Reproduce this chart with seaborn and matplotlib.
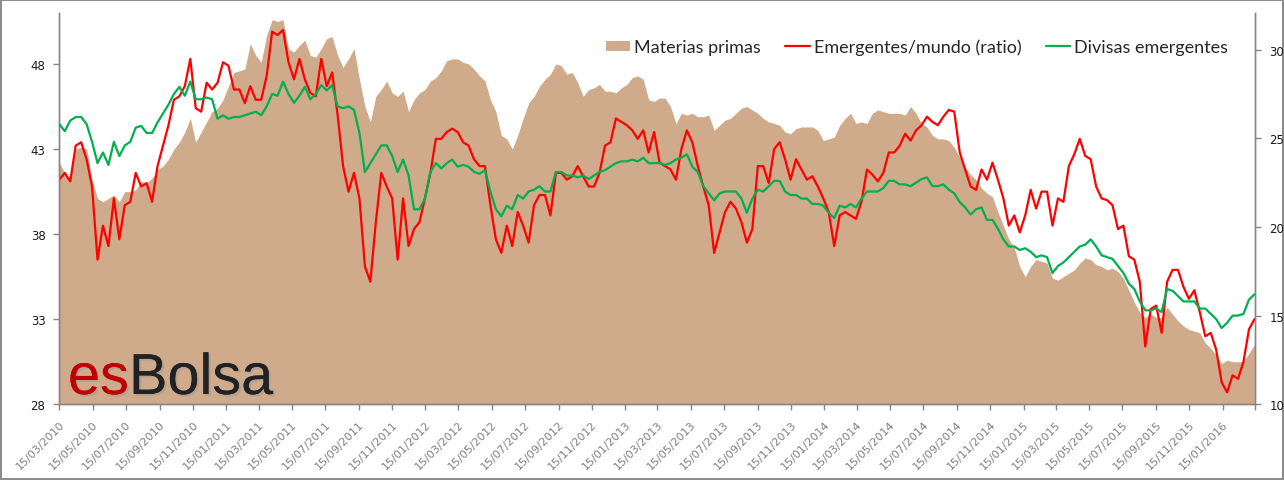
import pandas as pd
import matplotlib
matplotlib.use("Agg")
import matplotlib.pyplot as plt
import matplotlib.patheffects as pe
import seaborn as sns

# --- data (one value every 10 days from 15/03/2010) ---
start_date = "2010-03-15"

materias_primas = [
    42.2, 41.6, 41.2, 43.0, 43.1, 43.0, 41.2, 40.1, 39.9, 40.1,
    40.3, 39.9, 40.5, 40.5, 40.6, 41.1, 41.0, 41.3, 41.8, 42.0,
    42.4, 43.0, 43.4, 44.0, 44.8, 43.4, 44.0, 44.6, 45.2, 45.4,
    45.9, 46.7, 47.5, 47.6, 47.7, 49.2, 48.5, 48.1, 49.7, 50.6,
    50.5, 50.6, 48.9, 48.7, 49.1, 49.4, 48.5, 48.4, 48.9, 49.5,
    49.6, 48.5, 47.8, 48.3, 48.9, 47.1, 45.5, 44.6, 46.1, 46.5,
    47.0, 46.3, 46.1, 46.4, 45.2, 45.9, 46.3, 46.5, 47.0, 47.2,
    47.6, 48.2, 48.3, 48.3, 48.1, 48.0, 47.7, 47.3, 47.0, 45.9,
    45.2, 43.8, 43.6, 43.0, 43.8, 44.8, 45.7, 46.1, 46.7, 47.1,
    47.4, 48.0, 47.9, 47.4, 47.5, 46.9, 46.1, 46.5, 46.6, 46.8,
    46.4, 46.4, 46.3, 46.6, 46.8, 47.2, 47.3, 47.1, 45.9, 45.8,
    46.0, 46.0, 45.5, 44.5, 45.1, 45.0, 45.1, 44.9, 44.9, 45.0,
    44.1, 44.4, 44.7, 44.8, 45.1, 45.4, 45.5, 45.3, 45.1, 44.8,
    44.6, 44.5, 44.4, 44.0, 43.9, 44.2, 44.3, 44.3, 44.3, 44.1,
    43.5, 43.6, 43.7, 44.4, 44.8, 45.1, 44.5, 44.6, 44.5, 45.1,
    45.3, 45.2, 45.1, 45.1, 45.1, 45.0, 45.5, 45.1, 44.5, 44.3,
    43.8, 43.6, 43.6, 43.5, 43.1, 42.5, 41.9, 41.5, 41.2, 40.7,
    40.4, 40.2, 39.3, 38.5, 37.7, 37.2, 36.1, 35.5, 36.1, 36.5,
    36.4, 36.3, 35.4, 35.3, 35.5, 35.7, 35.9, 36.3, 36.6, 36.5,
    36.2, 36.1, 35.9, 36.0, 35.8, 35.4, 34.7, 34.0, 33.4, 33.1,
    33.3, 33.1, 33.1, 33.7, 33.3, 32.9, 32.6, 32.4, 32.3, 32.2,
    31.6, 31.3, 30.9, 30.4, 30.6, 30.5, 30.5, 30.5, 31.0, 31.5,
]

emergentes_mundo = [
    41.2, 41.6, 41.1, 43.2, 43.4, 42.4, 40.8, 36.5, 38.5, 37.3,
    40.1, 37.7, 39.7, 39.9, 41.6, 40.8, 41.0, 39.9, 42.0, 43.2,
    44.4, 45.9, 46.1, 46.7, 48.3, 45.4, 45.2, 46.9, 46.5, 46.9,
    48.1, 47.9, 46.5, 46.5, 45.7, 46.7, 45.9, 45.9, 47.3, 49.9,
    49.7, 50.0, 48.1, 47.1, 48.3, 47.1, 46.3, 46.1, 48.3, 46.7,
    47.5, 45.0, 42.0, 40.5, 41.6, 40.1, 36.1, 35.2, 38.7, 41.6,
    40.8, 40.1, 36.5, 40.1, 37.3, 38.3, 38.7, 40.1, 41.6, 43.6,
    43.6, 44.0, 44.2, 44.0, 43.4, 43.2, 42.4, 42.0, 42.0, 39.7,
    37.7, 36.9, 38.5, 37.3, 39.3, 38.5, 37.5, 39.7, 40.3, 40.3,
    39.1, 41.6, 41.6, 41.2, 41.4, 42.0, 41.4, 40.8, 40.8, 41.6,
    43.2, 43.4, 44.8, 44.6, 44.4, 44.1, 43.6, 44.1, 42.8, 44.0,
    42.2, 42.0, 41.8, 41.2, 43.0, 44.1, 43.4, 42.0, 40.8, 39.7,
    36.9, 38.1, 39.3, 39.9, 39.5, 38.7, 37.5, 38.3, 42.0, 42.0,
    41.0, 43.0, 43.4, 42.4, 41.2, 42.4, 41.8, 41.2, 41.4, 40.8,
    40.1, 39.3, 37.3, 39.1, 39.3, 39.1, 38.9, 39.9, 41.8, 41.5,
    41.1, 41.6, 42.8, 42.8, 43.2, 43.9, 43.5, 44.1, 44.4, 44.9,
    44.6, 44.4, 44.9, 45.3, 45.2, 42.8, 41.8, 40.8, 40.6, 41.8,
    41.2, 42.2, 41.2, 40.1, 38.5, 39.1, 38.1, 39.1, 40.6, 39.5,
    40.5, 40.5, 38.5, 40.1, 39.9, 42.0, 42.7, 43.6, 42.6, 42.4,
    40.8, 40.1, 40.0, 39.7, 38.3, 38.5, 36.7, 36.5, 35.2, 31.4,
    33.6, 33.8, 32.2, 35.2, 35.9, 35.9, 34.9, 34.2, 34.7, 33.4,
    32.0, 32.2, 31.2, 29.3, 28.7, 29.7, 29.5, 30.5, 32.4, 33.0,
]

divisas_emergentes = [
    25.8, 25.4, 26.0, 26.2, 26.2, 25.8, 24.8, 23.6, 24.2, 23.5,
    24.8, 24.0, 24.6, 24.8, 25.6, 25.7, 25.3, 25.3, 25.9, 26.4,
    26.9, 27.5, 27.9, 27.4, 28.2, 27.2, 27.2, 27.3, 27.2, 26.1,
    26.3, 26.1, 26.2, 26.2, 26.3, 26.4, 26.5, 26.3, 26.8, 27.5,
    27.4, 28.2, 27.5, 27.0, 27.4, 27.9, 27.2, 27.5, 28.0, 27.7,
    28.0, 26.8, 26.7, 26.8, 26.6, 25.3, 23.1, 23.6, 24.1, 24.6,
    24.6, 24.0, 23.1, 23.8, 22.9, 21.0, 21.0, 21.6, 23.1, 23.6,
    23.3, 23.6, 23.8, 23.4, 23.5, 23.4, 23.1, 23.0, 23.2, 22.0,
    21.0, 20.6, 21.2, 21.0, 21.8, 21.6, 22.0, 22.1, 22.3, 22.0,
    22.0, 23.1, 23.1, 22.9, 22.9, 22.8, 22.9, 22.7, 22.9, 23.1,
    23.2, 23.4, 23.6, 23.7, 23.7, 23.8, 23.7, 23.9, 23.6, 23.6,
    23.6, 23.5, 23.6, 23.8, 23.9, 24.1, 23.4, 23.1, 22.3, 21.9,
    21.5, 21.9, 22.0, 22.0, 22.0, 21.6, 20.8, 21.6, 22.1, 22.0,
    22.3, 22.6, 22.6, 22.0, 21.8, 21.8, 21.6, 21.6, 21.3, 21.3,
    21.2, 20.8, 20.5, 21.2, 21.1, 21.3, 21.1, 21.6, 22.0, 22.0,
    22.0, 22.2, 22.6, 22.6, 22.4, 22.4, 22.3, 22.5, 22.7, 22.8,
    22.3, 22.3, 22.4, 22.1, 21.9, 21.4, 21.1, 20.7, 21.0, 21.1,
    20.4, 20.4, 19.9, 19.3, 18.9, 18.9, 18.7, 18.8, 18.6, 18.3,
    18.4, 18.3, 17.4, 17.8, 18.0, 18.3, 18.6, 18.9, 19.0, 19.3,
    18.9, 18.4, 18.3, 18.2, 17.8, 17.4, 16.8, 16.5, 15.8, 15.3,
    15.3, 15.4, 15.2, 16.5, 16.4, 16.1, 15.8, 15.8, 15.8, 15.4,
    15.4, 15.1, 14.8, 14.3, 14.6, 15.0, 15.0, 15.1, 15.9, 16.2,
]

left_ticks = [28, 33, 38, 43, 48]
right_ticks = [10, 15, 20, 25, 30]

labels = ["Materias primas", "Emergentes/mundo (ratio)", "Divisas emergentes"]
FILL_COLOR = "#CFAA8B"
RED = "#FF0000"
GREEN = "#00B050"

dates = pd.date_range(start=start_date, periods=len(materias_primas), freq="10D")
df = pd.DataFrame({
    "fecha": dates,
    "materias": materias_primas,
    "ratio": emergentes_mundo,
    "divisas": divisas_emergentes,
})

sns.set_style("white")
plt.rcParams["font.family"] = ["DejaVu Sans"]

fig = plt.figure(figsize=(12.84, 4.81), dpi=100, edgecolor="#8C8C8C", linewidth=1.5)
ax = fig.add_axes([0.0462, 0.1574, 0.9316, 0.8129])
ax2 = ax.twinx()

# area + lines
ax.fill_between(df["fecha"], 28, df["materias"], color=FILL_COLOR, lw=0, label=labels[0], zorder=1)
sns.lineplot(data=df, x="fecha", y="ratio", ax=ax, color=RED, lw=1.6, label=labels[1], zorder=3)
sns.lineplot(data=df, x="fecha", y="divisas", ax=ax2, color=GREEN, lw=1.6, label=labels[2], zorder=3)

ax.set_ylim(28, 50.98)
ax2.set_ylim(10, 32.05)
ax.set_yticks(left_ticks)
ax2.set_yticks(right_ticks)

x_end = pd.Timestamp("2016-03-15")
ax.set_xlim(pd.Timestamp(start_date), x_end)
xticks = list(pd.date_range(start_date, "2016-01-15", freq=pd.DateOffset(months=2)))
ax.set_xticks(xticks + [x_end])
ax.set_xticklabels([d.strftime("%d/%m/%Y") for d in xticks] + [""],
                   rotation=45, ha="right", rotation_mode="anchor",
                   fontsize=8, color="#7F7F7F")
ax.tick_params(axis="x", length=4, width=1, color="#868686", pad=6, bottom=True)
ax.tick_params(axis="y", length=4, width=1, color="#868686", labelsize=8.5,
               labelcolor="#1A1A1A", pad=6, left=True)
ax2.tick_params(axis="y", length=4, width=1, color="#868686", labelsize=8.5,
                labelcolor="#1A1A1A", pad=6, right=True)

for a in (ax, ax2):
    a.set_xlabel("")
    a.set_ylabel("")
    a.spines["top"].set_visible(False)
    for s in ("left", "right", "bottom"):
        a.spines[s].set_color("#868686")
        a.spines[s].set_linewidth(1)
    if a.get_legend() is not None:
        a.get_legend().remove()

# legend across the top right
h1, l1 = ax.get_legend_handles_labels()
h2, l2 = ax2.get_legend_handles_labels()
fig.legend(h1 + h2, l1 + l2, loc="center right", bbox_to_anchor=(0.969, 0.90),
           ncol=3, frameon=False, prop={"family": "Lato", "size": 13},
           handlelength=1.35, handleheight=0.55, handletextpad=0.22, columnspacing=1.35)

# esBolsa logo
shadow = [pe.withSimplePatchShadow(offset=(1.5, -1.5), shadow_rgbFace="#999999", alpha=0.5), pe.Normal()]
t1 = fig.text(68 / 1284, 1 - 395 / 481, "es", color="#C00000", fontsize=41.5,
              family="Liberation Sans", va="baseline", ha="left", path_effects=shadow)
fig.canvas.draw()
bb = t1.get_window_extent()
fig.text(bb.x1 / fig.bbox.width, 1 - 395 / 481, "Bolsa", color="#222222", fontsize=41.5,
         family="Liberation Sans", va="baseline", ha="left", path_effects=shadow)

fig.savefig("out.png", dpi=100, edgecolor=fig.get_edgecolor())
